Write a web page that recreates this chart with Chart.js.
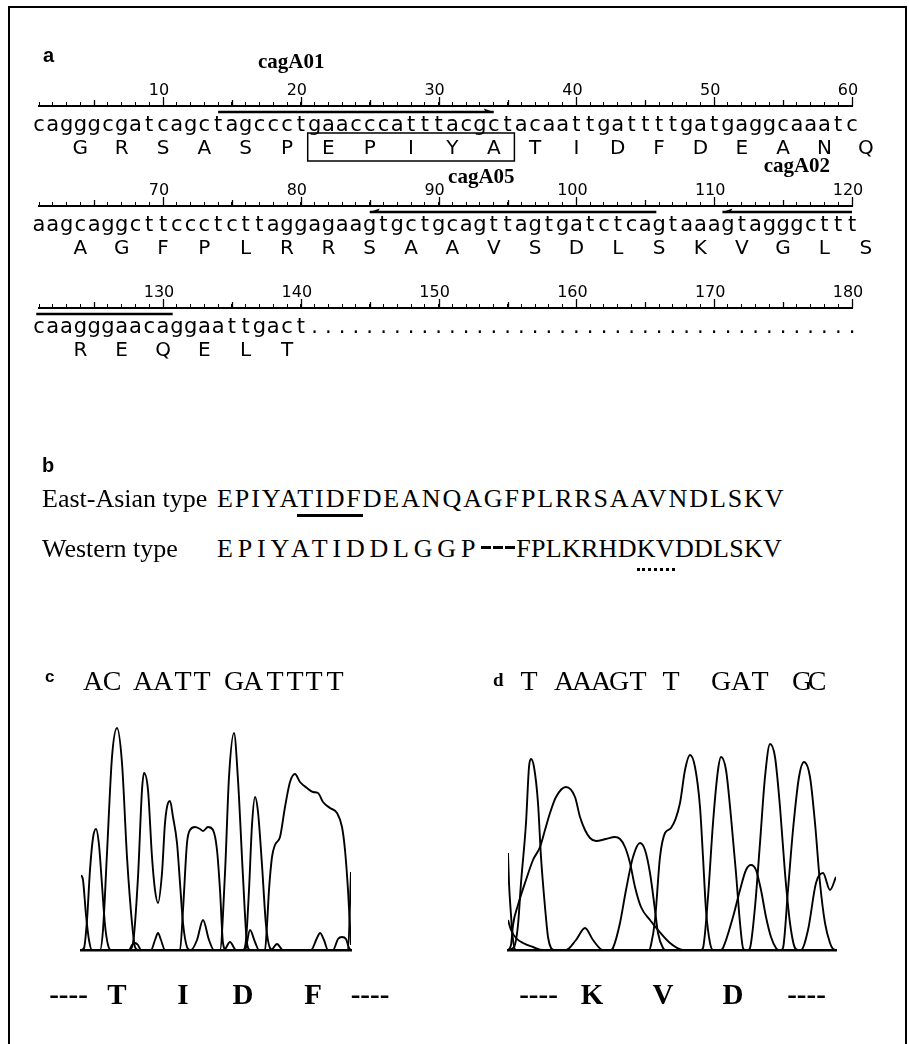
<!DOCTYPE html>
<html>
<head>
<meta charset="utf-8">
<script src="https://cdn.jsdelivr.net/npm/chart.js@4.4.0/dist/chart.umd.min.js"></script>
<style>
  html, body { margin: 0; padding: 0; background: #fff; overflow: hidden; }
  #page { position: relative; width: 909px; height: 1044px; overflow: hidden; }
  #frame { position: absolute; left: 8px; top: 6px; width: 895px; height: 1100px; border: 2px solid #000; }
  canvas { position: absolute; }
  .t { position: absolute; white-space: nowrap; line-height: 1; color: #000; }
  .u { border-bottom: 3px solid #000; padding-bottom: 1px; }
  .dot { border-bottom: 3px dotted #000; padding-bottom: 5px; }
  .dash { display: inline-block; width: 10px; height: 0; border-top: 3px solid #000; margin: 0 1px; position: relative; top: -8px; }
</style>
</head>
<body>
<div id="page">
  <div id="frame"></div>
  <canvas id="row0" width="909" height="125" style="left:0;top:46px"></canvas>
  <canvas id="row1" width="909" height="125" style="left:0;top:146px"></canvas>
  <canvas id="row2" width="909" height="125" style="left:0;top:248px"></canvas>
  <canvas id="chromC" width="450" height="400" style="left:0;top:640px"></canvas>
  <canvas id="chromD" width="459" height="400" style="left:450px;top:640px"></canvas>
</div>
<script>
// panel a: nucleotide rows (60 per row), translation starts at base 3
const seqRows = [
  'cagggcgatcagctagccctgaacccatttacgctacaattgattttgatgaggcaaatc',
  'aagcaggcttccctcttaggagaagtgctgcagttagtgatctcagtaaagtagggcttt',
  'caagggaacaggaattgact' + '..........' + '..........' + '..........' + '..........'
];
const aminoAcids = 'GRSASPEPIYATIDFDEANQAGFPLRRSAAVSDLSKVGLSREQELT';
const firstCodon = 3;
const boxedAA = [6, 10]; // EPIYA

const primerNames = ['cagA01', 'cagA05', 'cagA02'];
const primerFrom = [14, 85, 110.6];
const primerTo = [34, 105.8, 130.7];
const primerDir = [1, -1, -1];
const primerLabelAt = [19.3, 93.1, 116];

// panel b
const eastAsian = 'EPIYATIDFDEANQAGFPLRRSAAVNDLSKV';
const western = 'EPIYATIDDLGGP---FPLKRHDKVDDLSKV';
const eastMark = [5, 8];
const westMark = [23, 24];

// panel c: traces, x = scan position, y = signal
const cTraceA = [[0,0],[3,2],[6,30],[9,80],[12,112],[15,121],[18,105],[21,65],[24,25],[27,5],[30,0],
  [48,0],[52,7],[57,73],[61,160],[63,177],[67,160],[71,93],[74,60],[77,47],[81,77],[84,127],[87,147],[89,149],[92,133],[96,107],[99,67],[102,27],[106,3],[109,0],
  [162,0],[165,10],[168,60],[171,125],[174,153],[177,138],[181,85],[185,25],[189,2],[192,0],
  [230,0],[236,12],[239,17],[243,10],[247,0],[270,0]];
const cTraceC = [[0,0],[19,0],[22,20],[26,97],[31,193],[36,222],[41,187],[46,93],[51,27],[54,3],[57,0],
  [70,0],[74,10],[77,17],[80,10],[84,0],
  [110,0],[116,10],[122,30],[128,10],[133,0],
  [143,0],[149,8],[155,0],[164,0],[169,20],[174,8],[178,0],
  [252,0],[257,11],[261,13],[265,11],[268,2],[270,0]];
const cTraceG = [[0,0],[48,0],[51,5],[54,7],[57,5],[60,0],
  [139,0],[144,77],[148,173],[153,217],[157,170],[162,73],[166,7],[169,0],
  [190,0],[196,6],[202,0],[267,0],[270,78]];
const cTraceT = [[0,75],[2,70],[5,35],[8,10],[11,0],
  [99,0],[102,40],[106,107],[109,120],[114,123],[119,121],[122,119],[127,123],[132,120],[136,100],[139,60],[142,7],[145,0],
  [184,0],[186,25],[188,60],[191,93],[194,105],[199,113],[204,143],[209,168],[214,176],[219,168],[226,162],[232,158],[237,157],[242,148],[249,142],[256,137],[261,123],[264,100],[267,60],[270,5]];
const cCalls = ['A','C','A','A','T','T','G','A','T','T','T','T'];
const cCallPos = [12, 31, 62, 82, 102, 121, 153, 172, 194, 214, 233, 254];
const cResidues = ['----','T','I','D','F','----'];
const cResiduePos = [-12.5, 36, 102, 162, 232, 289];

// panel d
const dTraceA = [[0,0],[3,5],[5,25],[10,45],[18,70],[25,90],[32,103],[37,120],[42,137],[48,153],[58,163],[67,153],[72,133],[77,120],[82,112],[88,109],[98,111],[107,113],[112,111],[117,103],[122,87],[127,63],[133,43],[142,30],[150,20],[162,7],[175,0],
  [193,0],[195,2],[200,53],[205,127],[210,180],[213,193],[218,180],[223,133],[228,77],[232,27],[235,2],[237,0],
  [273,0],[275,2],[280,60],[285,120],[291,173],[296,188],[302,173],[307,127],[312,67],[317,27],[322,7],[325,1],[328,0]];
const dTraceC = [[0,30],[3,20],[8,12],[15,7],[25,3],[35,0],
  [58,0],[68,10],[77,22],[85,10],[95,0],[328,0]];
const dTraceG = [[0,97],[1,67],[3,35],[5,10],[8,0],
  [103,0],[105,2],[112,27],[118,60],[125,93],[132,107],[137,100],[142,77],[147,40],[150,17],[155,2],[158,0],
  [213,0],[215,2],[225,33],[232,60],[238,80],[243,85],[248,80],[253,60],[258,33],[263,13],[268,2],[271,0],
  [293,0],[300,20],[308,67],[315,77],[322,60],[328,73]];
const dTraceT = [[0,0],[6,3],[10,25],[13,67],[18,127],[21,183],[23,191],[26,183],[30,147],[33,93],[37,43],[40,13],[43,2],[46,0],
  [141,0],[143,5],[147,30],[152,93],[157,117],[163,122],[172,147],[177,180],[182,195],[187,183],[192,143],[195,93],[198,40],[202,7],[205,0],
  [240,0],[242,2],[247,43],[252,107],[257,173],[262,206],[267,193],[272,143],[277,77],[282,27],[287,2],[290,0],[328,0]];
const dCalls = ['T','A','A','A','G','T','T','G','A','T','G','C'];
const dCallPos = [21, 56, 74, 93, 111, 130, 163, 213, 233, 252, 294, 309];
const dResidues = ['----','K','V','D','----'];
const dResiduePos = [30.5, 84, 155, 225, 298.5];

const traceNames = ['A', 'C', 'G', 'T'];

// ---------- static text ----------
const page = document.getElementById('page');
const SANS = '"Liberation Sans", Arial, sans-serif';
const SERIF = '"Liberation Serif", "Times New Roman", serif';

function put(txt, x, base, size, family, weight) {
  const d = document.createElement('div');
  d.className = 't';
  d.style.fontFamily = family;
  d.style.fontSize = size + 'px';
  d.style.fontWeight = weight || 'normal';
  d.style.left = x + 'px';
  d.style.top = (base - 0.84 * size) + 'px';
  d.textContent = txt;
  page.appendChild(d);
  return d;
}

put('a', 43, 62, 20, SANS, 'bold');
put('b', 42, 472, 20, SANS, 'bold');
put('c', 45, 682, 17, SANS, 'bold');
put('d', 493, 686, 19, SERIF, 'bold');

put('East-Asian type', 42, 508, 26, SERIF);
put('Western type', 42, 558, 26, SERIF);

function span(txt, cls, spacing) {
  const s = document.createElement('span');
  if (cls) s.className = cls;
  if (spacing !== undefined) s.style.letterSpacing = spacing + 'px';
  s.textContent = txt;
  return s;
}

// East-Asian: one run, TIDF underlined
const east = put('', 217, 508, 26, SERIF);
east.style.letterSpacing = '1.9px';
east.appendChild(span(eastAsian.slice(0, eastMark[0])));
east.appendChild(span(eastAsian.slice(eastMark[0], eastMark[1] + 1), 'u'));
east.appendChild(span(eastAsian.slice(eastMark[1] + 1)));

// Western: gap shown as bars, KV dotted
const west = put('', 217, 558, 26, SERIF);
const gapAt = western.indexOf('-');
const gapEnd = western.lastIndexOf('-') + 1;
west.appendChild(span(western.slice(0, gapAt), null, 4.8));
for (let i = gapAt; i < gapEnd; i++) west.appendChild(span('', 'dash'));
west.appendChild(span(western.slice(gapEnd, westMark[0]), null, 0.3));
west.appendChild(span(western.slice(westMark[0], westMark[1] + 1), 'dot', 0.3));
west.appendChild(span(western.slice(westMark[1] + 1), null, 0.3));

// ---------- panel a rows ----------
function rowPlugin(r) {
  return {
    id: 'seq' + r,
    afterDraw(chart) {
      const ctx = chart.ctx;
      const xs = chart.scales.x;
      const y0 = chart.chartArea.top;
      const lo = 60 * r + 1, hi = 60 * r + 60;
      ctx.save();
      ctx.strokeStyle = '#000';
      ctx.fillStyle = '#000';
      // longer ticks at 5 and 10
      ctx.lineWidth = 1.3;
      for (let v = lo; v <= hi; v++) {
        const len = v % 10 === 0 ? 9 : (v % 5 === 0 ? 6 : 0);
        if (!len) continue;
        const px = Math.round(xs.getPixelForValue(v)) + 0.5;
        ctx.beginPath(); ctx.moveTo(px, y0); ctx.lineTo(px, y0 - len); ctx.stroke();
      }
      // nucleotides
      ctx.font = '21px "DejaVu Sans", sans-serif';
      ctx.textAlign = 'center';
      ctx.textBaseline = 'alphabetic';
      seqRows[r].split('').forEach((ch, i) => {
        ctx.fillText(ch, xs.getPixelForValue(lo + i), y0 + 24.5);
      });
      // amino acids
      ctx.font = '20px "DejaVu Sans", sans-serif';
      aminoAcids.split('').forEach((aa, k) => {
        const start = firstCodon + 3 * k;
        if (Math.floor((start - 1) / 60) !== r) return;
        ctx.fillText(aa, xs.getPixelForValue(start + 1), y0 + 48);
      });
      // EPIYA box
      const bStart = firstCodon + 3 * boxedAA[0] - 0.5;
      const bEnd = firstCodon + 3 * boxedAA[1] + 2.5;
      if (bStart >= lo && bStart <= hi) {
        ctx.lineWidth = 1.5;
        const x1 = xs.getPixelForValue(bStart), x2 = xs.getPixelForValue(bEnd);
        ctx.strokeRect(x1, y0 + 27, x2 - x1, 28);
      }
      // primers
      const labelDy = [-43, -28, -39];
      primerNames.forEach((name, p) => {
        const a = Math.max(primerFrom[p], lo - 0.2), b = Math.min(primerTo[p], hi);
        if (a < b) {
          const x1 = xs.getPixelForValue(a), x2 = xs.getPixelForValue(b);
          const y = y0 + 6;
          ctx.lineWidth = 2.4;
          ctx.beginPath(); ctx.moveTo(x1, y); ctx.lineTo(x2, y); ctx.stroke();
          const tipVal = primerDir[p] > 0 ? primerTo[p] : primerFrom[p];
          if (tipVal >= lo && tipVal <= hi) {
            const tx = xs.getPixelForValue(tipVal), d = primerDir[p];
            ctx.beginPath();
            ctx.moveTo(tx, y);
            ctx.lineTo(tx - d * 10, y - 3.5);
            ctx.lineTo(tx - d * 8, y);
            ctx.closePath();
            ctx.fill();
          }
        }
        if (primerLabelAt[p] >= lo && primerLabelAt[p] <= hi) {
          ctx.font = 'bold 21px "Liberation Serif", serif';
          ctx.textBaseline = 'middle';
          ctx.fillText(name, xs.getPixelForValue(primerLabelAt[p]), y0 + labelDy[p]);
          ctx.textBaseline = 'alphabetic';
        }
      });
      ctx.restore();
    }
  };
}

function rowChart(r) {
  new Chart(document.getElementById('row' + r), {
    type: 'line',
    data: { datasets: [] },
    options: {
      responsive: false,
      animation: false,
      events: [],
      layout: { padding: { top: 30, left: 39, right: 57, bottom: 0 } },
      plugins: { legend: { display: false }, tooltip: { enabled: false } },
      scales: {
        x: {
          type: 'linear',
          position: 'top',
          min: 60 * r + 1,
          max: 60 * r + 60,
          afterFit: (s) => { s.height = 30; },
          grid: { drawOnChartArea: false, tickLength: 4, color: '#000', lineWidth: 1 },
          border: { display: true, color: '#000', width: 2 },
          ticks: {
            stepSize: 1, autoSkip: false, maxRotation: 0, padding: 2, labelOffset: -4,
            color: '#000', font: { family: '"DejaVu Sans"', size: 16 },
            callback: (v) => (v % 10 === 0 ? String(v) : '')
          }
        },
        y: { display: false, min: 0, max: 1 }
      }
    },
    plugins: [rowPlugin(r)]
  });
}
[0, 1, 2].forEach(rowChart);

// ---------- panels c and d ----------
function labelPlugin(calls, callPos, residues, resPos) {
  return {
    id: 'calls',
    afterDraw(chart) {
      const ctx = chart.ctx, xs = chart.scales.x, area = chart.chartArea;
      ctx.save();
      ctx.fillStyle = '#000';
      ctx.textAlign = 'center';
      ctx.textBaseline = 'middle';
      ctx.font = '28px "Liberation Serif", serif';
      calls.forEach((b, i) => ctx.fillText(b, xs.getPixelForValue(callPos[i]), area.top - 42));
      ctx.font = 'bold 29px "Liberation Serif", serif';
      residues.forEach((b, i) => ctx.fillText(b, xs.getPixelForValue(resPos[i]), area.bottom + 47));
      ctx.restore();
    }
  };
}

function chromChart(id, traces, xMax, pad, calls, callPos, residues, resPos) {
  new Chart(document.getElementById(id), {
    type: 'line',
    data: {
      datasets: traces.map((t, i) => ({
        label: traceNames[i],
        data: t.map(([x, y]) => ({ x, y })),
        borderColor: '#000',
        borderWidth: 1.9,
        pointRadius: 0,
        fill: false,
        cubicInterpolationMode: 'monotone'
      }))
    },
    options: {
      responsive: false,
      animation: false,
      events: [],
      layout: { padding: pad },
      plugins: { legend: { display: false }, tooltip: { enabled: false } },
      scales: {
        x: {
          type: 'linear', min: 0, max: xMax,
          afterFit: (s) => { s.height = 0; },
          grid: { display: false },
          ticks: { display: false },
          border: { display: true, color: '#000', width: 2.5 }
        },
        y: { display: false, min: 0, max: 225 }
      }
    },
    plugins: [labelPlugin(calls, callPos, residues, resPos)]
  });
}

chromChart('chromC', [cTraceA, cTraceC, cTraceG, cTraceT], 270,
  { left: 81, right: 99, top: 85, bottom: 90 }, cCalls, cCallPos, cResidues, cResiduePos);
chromChart('chromD', [dTraceA, dTraceC, dTraceG, dTraceT], 328,
  { left: 58, right: 73, top: 85, bottom: 90 }, dCalls, dCallPos, dResidues, dResiduePos);
</script>
</body>
</html>
